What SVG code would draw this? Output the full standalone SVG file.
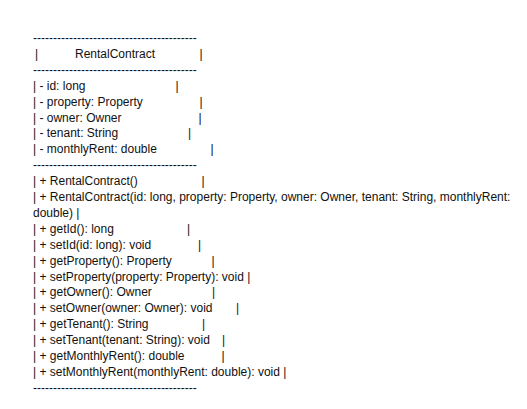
<svg xmlns="http://www.w3.org/2000/svg" width="527" height="409" viewBox="0 0 527 409">
<style>
text{font-family:"Liberation Sans",Arial,sans-serif;font-size:12px;fill:#111}
</style>
<rect width="527" height="409" fill="#fff"/>
<g id="class-RentalContract">
<text x="33" y="42">-----------------------------------------</text>
<text x="35" y="58">|<tspan x="75">RentalContract</tspan><tspan x="199.5">|</tspan></text>
<text x="33" y="74">-----------------------------------------</text>
<text x="33" y="89.7">| - id: long<tspan x="175.5">|</tspan></text>
<text x="33" y="105.6">| - property: Property<tspan x="199.5">|</tspan></text>
<text x="33" y="121.5">| - owner: Owner<tspan x="198.5">|</tspan></text>
<text x="33" y="137.4">| - tenant: String<tspan x="188">|</tspan></text>
<text x="33" y="153.3">| - monthlyRent: double<tspan x="210.5">|</tspan></text>
<text x="33" y="169.2">-----------------------------------------</text>
<text x="33" y="185.1">| + RentalContract()<tspan x="201.5">|</tspan></text>
<text x="33" y="201">| + RentalContract(id: long, property: Property, owner: Owner, tenant: String, monthlyRent:</text>
<text x="33" y="216.9">double) |</text>
<text x="33" y="232.8">| + getId(): long<tspan x="187">|</tspan></text>
<text x="33" y="248.7">| + setId(id: long): void<tspan x="198">|</tspan></text>
<text x="33" y="264.6">| + getProperty(): Property<tspan x="211.5">|</tspan></text>
<text x="33" y="280.5">| + setProperty(property: Property): void |</text>
<text x="33" y="296.4">| + getOwner(): Owner<tspan x="212">|</tspan></text>
<text x="33" y="312.3">| + setOwner(owner: Owner): void<tspan x="236">|</tspan></text>
<text x="33" y="328.2">| + getTenant(): String<tspan x="202">|</tspan></text>
<text x="33" y="344.1">| + setTenant(tenant: String): void<tspan x="222">|</tspan></text>
<text x="33" y="360">| + getMonthlyRent(): double<tspan x="221.5">|</tspan></text>
<text x="33" y="375.9">| + setMonthlyRent(monthlyRent: double): void |</text>
<text x="33" y="391.8">-----------------------------------------</text>
</g>
<g id="connectors"></g>
</svg>
